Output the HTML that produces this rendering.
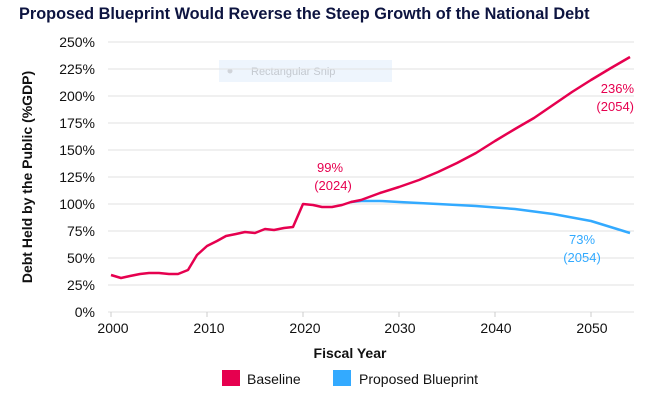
<!DOCTYPE html>
<html><head><meta charset="utf-8"><style>
body{margin:0;background:#fff;width:655px;height:404px;overflow:hidden}
svg text{font-family:"Liberation Sans",sans-serif}
</style></head><body>
<svg width="655" height="404" viewBox="0 0 655 404" xmlns="http://www.w3.org/2000/svg">
<text x="19" y="19" font-size="16.3" font-weight="bold" fill="#0d1440">Proposed Blueprint Would Reverse the Steep Growth of the National Debt</text>
<rect x="219" y="60" width="173" height="22" fill="#eef5fd"/>
<circle cx="230" cy="71" r="2.5" fill="#d0d4da"/>
<text x="251" y="75" font-size="11" fill="#c4c9d0">Rectangular Snip</text>
<g stroke="#e2e2e2" stroke-width="1">
<line x1="108" x2="634" y1="42" y2="42"/><line x1="108" x2="634" y1="69" y2="69"/>
<line x1="108" x2="634" y1="96" y2="96"/><line x1="108" x2="634" y1="123" y2="123"/>
<line x1="108" x2="634" y1="150" y2="150"/><line x1="108" x2="634" y1="177" y2="177"/>
<line x1="108" x2="634" y1="204" y2="204"/><line x1="108" x2="634" y1="231" y2="231"/>
<line x1="108" x2="634" y1="258" y2="258"/><line x1="108" x2="634" y1="285" y2="285"/>
<line x1="108" x2="634" y1="312" y2="312"/>
</g>
<g font-size="14" fill="#111" text-anchor="end">
<text x="95" y="47">250%</text><text x="95" y="74">225%</text><text x="95" y="101">200%</text>
<text x="95" y="128">175%</text><text x="95" y="155">150%</text><text x="95" y="182">125%</text>
<text x="95" y="209">100%</text><text x="95" y="236">75%</text><text x="95" y="263">50%</text>
<text x="95" y="290">25%</text><text x="95" y="317">0%</text>
</g>
<g font-size="14" fill="#111" text-anchor="middle">
<text x="113" y="333">2000</text><text x="209" y="333">2010</text><text x="305" y="333">2020</text>
<text x="400" y="333">2030</text><text x="496" y="333">2040</text><text x="592" y="333">2050</text>
</g>
<text x="350" y="358" font-size="14" font-weight="bold" fill="#111" text-anchor="middle">Fiscal Year</text>
<text transform="translate(32,177) rotate(-90)" font-size="14" font-weight="bold" fill="#111" text-anchor="middle">Debt Held by the Public (%GDP)</text>
<polyline fill="none" stroke="#33aaff" stroke-width="2.5" stroke-linejoin="round" points="351,202 361,201 380,201 399,202 438,204 476,206 515,209 553,214 591,221 630,233"/>
<polyline fill="none" stroke="#e6004f" stroke-width="2.5" stroke-linejoin="round" points="111,275 121,278 130,276 140,274 149,273 159,273 169,274 178,274 188,270 197,255 207,246 217,241 226,236 236,234 245,232 255,233 265,229 274,230 284,228 293,227 303,204 313,205 322,207 332,207 342,205 351,202 361,200 380,193 399,187 419,180 438,172 457,163 476,153 495,141 515,129 534,118 553,105 572,92 591,80 611,68 630,57"/>
<text x="330" y="172" font-size="13" fill="#e6004f" text-anchor="middle">99%</text>
<text x="333" y="190" font-size="13" fill="#e6004f" text-anchor="middle">(2024)</text>
<text x="634" y="93" font-size="13" fill="#e6004f" text-anchor="end">236%</text>
<text x="634" y="111" font-size="13" fill="#e6004f" text-anchor="end">(2054)</text>
<text x="582" y="244" font-size="13" fill="#33aaff" text-anchor="middle">73%</text>
<text x="582" y="262" font-size="13" fill="#33aaff" text-anchor="middle">(2054)</text>
<rect x="222" y="370" width="18" height="16" fill="#e6004f"/>
<text x="247" y="384" font-size="14" fill="#111">Baseline</text>
<rect x="333" y="370" width="18" height="16" fill="#33aaff"/>
<text x="359" y="384" font-size="14" fill="#111">Proposed Blueprint</text>
<g stroke="#ccc">
<line x1="111" x2="111" y1="312" y2="317"/><line x1="207" x2="207" y1="312" y2="317"/>
<line x1="303" x2="303" y1="312" y2="317"/><line x1="399" x2="399" y1="312" y2="317"/>
<line x1="495" x2="495" y1="312" y2="317"/><line x1="591" x2="591" y1="312" y2="317"/>
</g>
</svg>
</body></html>
